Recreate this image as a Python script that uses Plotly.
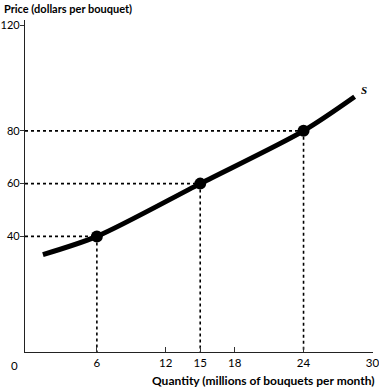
import plotly.graph_objects as go

# Supply curve
curve_q = [1.3, 6, 15, 24, 28.45]
curve_p = [33.1, 40, 60, 80, 92.9]

# Highlighted points
point_q = [6, 15, 24]
point_p = [40, 60, 80]

x_ticks = [6, 12, 15, 18, 24, 30]
y_ticks = [40, 60, 80, 120]

X0, X1 = -0.26, 30.05
Y0, Y1 = -3.8, 122.0
FONT = "Lato, 'Open Sans', sans-serif"

fig = go.Figure()

# dotted guide lines
for q, p in zip(point_q, point_p):
    fig.add_trace(go.Scatter(x=[X0, q], y=[p, p], mode="lines",
                             line=dict(color="black", width=1.6, dash="dot"),
                             hoverinfo="skip", showlegend=False))
    fig.add_trace(go.Scatter(x=[q, q], y=[p, Y0], mode="lines",
                             line=dict(color="black", width=1.6, dash="dot"),
                             hoverinfo="skip", showlegend=False))

fig.add_trace(go.Scatter(x=curve_q, y=curve_p, mode="lines",
                         line=dict(color="black", width=5, shape="spline", smoothing=0.8),
                         showlegend=False))
fig.add_trace(go.Scatter(x=point_q, y=point_p, mode="markers",
                         marker=dict(color="black", size=12),
                         showlegend=False))

fig.update_layout(
    template="none",
    width=379, height=389,
    margin=dict(l=25, r=6, t=20, b=37, autoexpand=False),
    plot_bgcolor="white", paper_bgcolor="white",
    font=dict(family=FONT, size=11, color="#000"),
    xaxis=dict(range=[X0, X1], tickvals=x_ticks, ticktext=[str(v) for v in x_ticks],
               ticks="inside", ticklen=5, tickcolor="#333", showgrid=False, zeroline=False,
               showline=True, linecolor="#222", linewidth=1.2, fixedrange=True,
               tickfont=dict(size=11.5), ticklabeloverflow="allow", automargin=False),
    yaxis=dict(range=[Y0, Y1], tickvals=y_ticks, ticktext=[str(v) for v in y_ticks],
               ticks="outside", ticklen=4, tickcolor="#333", showgrid=False, zeroline=False,
               showline=True, linecolor="#222", linewidth=1.2, fixedrange=True,
               tickfont=dict(size=11), ticklabelstandoff=-2,
               ticklabeloverflow="allow", automargin=False),
    annotations=[
        dict(text="<b>Price (dollars per bouquet)</b>", xref="paper", yref="paper",
             x=-0.066, y=1.036, xanchor="left", yanchor="middle", showarrow=False,
             font=dict(size=11, family=FONT)),
        dict(text="<b>Quantity (millions of bouquets per month)</b>", xref="paper", yref="paper",
             x=1.012, y=-0.087, xanchor="right", yanchor="middle", showarrow=False,
             font=dict(size=12, family=FONT)),
        dict(text="0", xref="paper", yref="paper", x=-0.029, y=-0.04,
             xanchor="center", yanchor="middle", showarrow=False, font=dict(size=11.5)),
        dict(text="<b><i>S</i></b>", xref="x", yref="y", x=28.85, y=95.5,
             xanchor="left", yanchor="middle", showarrow=False,
             font=dict(size=11, family="'Liberation Serif', serif")),
    ],
)

fig.write_html("out.html", config={"displayModeBar": False},
               post_script="document.body.style.margin='0';document.body.style.overflow='hidden';")
